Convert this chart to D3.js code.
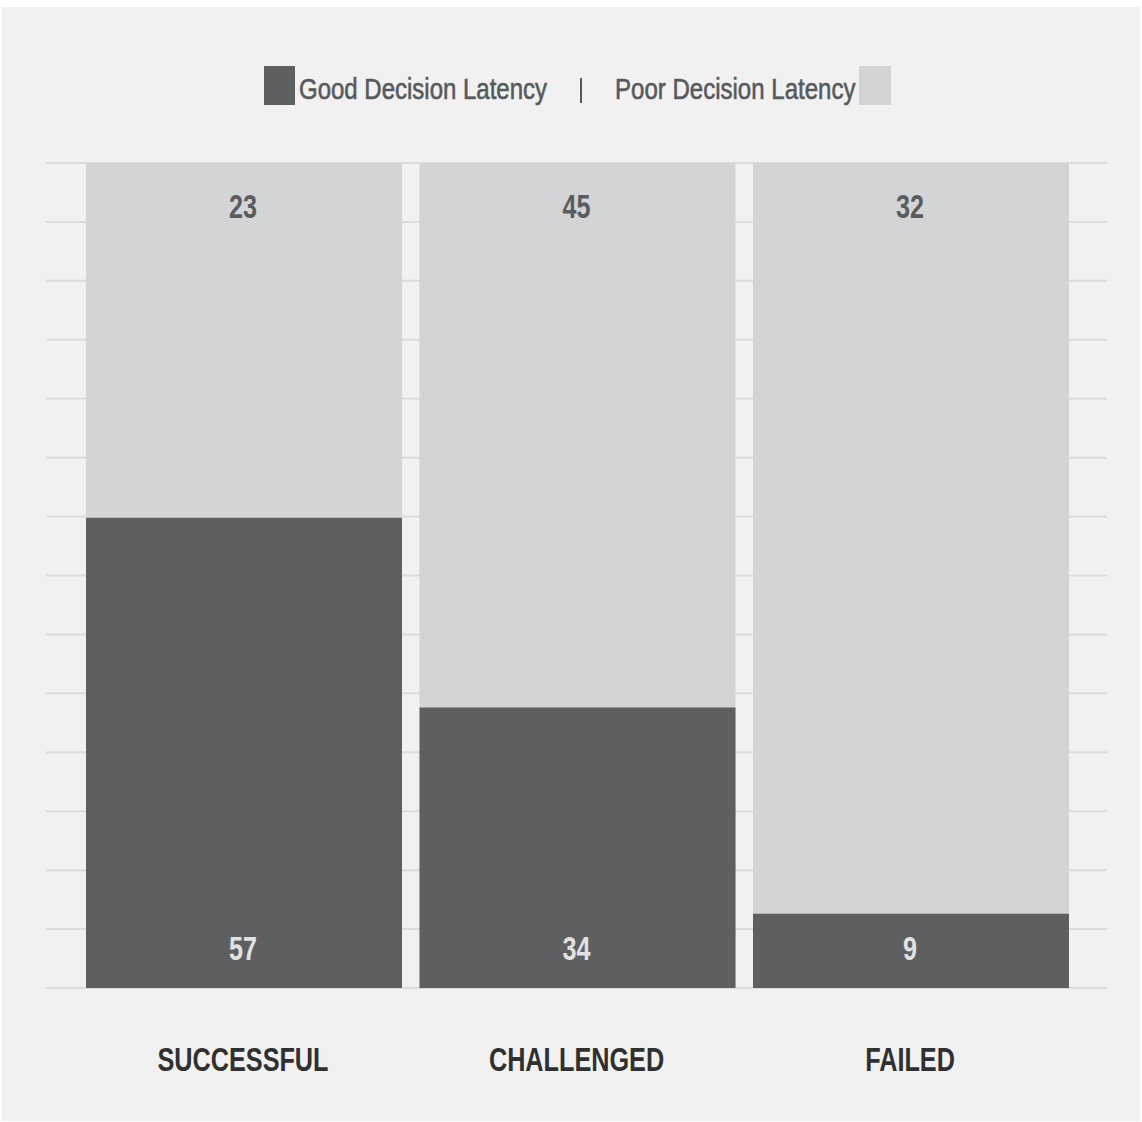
<!DOCTYPE html>
<html>
<head>
<meta charset="utf-8">
<script src="https://cdn.jsdelivr.net/npm/d3@7"></script>
<style>
  html, body { margin: 0; padding: 0; background: #ffffff; }
  svg { display: block; }
</style>
</head>
<body>
<svg id="chart" width="1142" height="1122"></svg>
<script>
// Project outcome categories and decision-latency shares (percent of projects)
const categories = ["SUCCESSFUL", "CHALLENGED", "FAILED"];
const goodLatency = [57, 34, 9];
const poorLatency = [23, 45, 32];
const seriesNames = ["Good Decision Latency", "Poor Decision Latency"];
const gridCount = 14; // horizontal guide lines divide the 0–100 scale evenly

const colors = { good: "#5e5f61", poor: "#d3d4d6", bg: "#f1f1f1", grid: "#dcdcdc", text: "#58595b" };
// condensed look: Liberation Sans squeezed horizontally
const font = "'Liberation Sans', Arial, sans-serif";

const svg = d3.select("#chart");

// panel background
svg.append("rect").attr("x", 2).attr("y", 7).attr("width", 1138).attr("height", 1114).attr("fill", colors.bg);

const plot = { left: 86, right: 1069, top: 163, bottom: 988, gridLeft: 46, gridRight: 1107 };

const x = d3.scaleBand().domain(categories).range([plot.left, plot.right]).paddingInner(0.0525).paddingOuter(0);
const y = d3.scaleLinear().domain([0, 100]).range([plot.bottom, plot.top]);

// gridlines
const gridTicks = d3.range(gridCount + 1).map(i => i * 100 / gridCount);
svg.append("g").selectAll("line").data(gridTicks).join("line")
  .attr("x1", plot.gridLeft).attr("x2", plot.gridRight)
  .attr("y1", d => y(d)).attr("y2", d => y(d))
  .attr("stroke", colors.grid).attr("stroke-width", 2);

const rows = categories.map((c, i) => ({ cat: c, good: goodLatency[i], poor: poorLatency[i] }));
const cx = d => x(d.cat) + x.bandwidth() / 2 - 1;

// full-height track behind each column (poor latency region)
svg.append("g").selectAll("rect").data(rows).join("rect")
  .attr("x", d => x(d.cat)).attr("width", x.bandwidth())
  .attr("y", y(100)).attr("height", y(0) - y(100))
  .attr("fill", colors.poor);

// good latency bars
svg.append("g").selectAll("rect").data(rows).join("rect")
  .attr("x", d => x(d.cat)).attr("width", x.bandwidth())
  .attr("y", d => y(d.good)).attr("height", d => y(0) - y(d.good))
  .attr("fill", colors.good);

// value labels
svg.append("g").selectAll("text").data(rows).join("text")
  .attr("transform", d => `translate(${cx(d)},218) scale(0.74,1)`)
  .attr("text-anchor", "middle").attr("font-family", font).attr("font-size", 34)
  .attr("font-weight", "bold").attr("fill", "#5a5b5d")
  .text(d => d.poor);

svg.append("g").selectAll("text").data(rows).join("text")
  .attr("transform", d => `translate(${cx(d)},960) scale(0.74,1)`)
  .attr("text-anchor", "middle").attr("font-family", font).attr("font-size", 34)
  .attr("font-weight", "bold").attr("fill", "#e2e2e2")
  .text(d => d.good);

// category labels
svg.append("g").selectAll("text").data(categories).join("text")
  .attr("transform", d => `translate(${x(d) + x.bandwidth() / 2 - 1},1071) scale(0.765,1)`)
  .attr("text-anchor", "middle").attr("font-family", font).attr("font-size", 33)
  .attr("font-weight", "bold").attr("fill", "#303030")
  .text(d => d);

// legend
const lg = svg.append("g");
lg.append("rect").attr("x", 264).attr("y", 66).attr("width", 31).attr("height", 39).attr("fill", colors.good);
lg.append("text").attr("transform", "translate(299,99) scale(0.827,1)")
  .attr("font-family", font).attr("font-size", 29)
  .attr("fill", colors.text).attr("stroke", colors.text).attr("stroke-width", 0.6)
  .text(seriesNames[0]);
lg.append("line").attr("x1", 581).attr("x2", 581).attr("y1", 78).attr("y2", 103)
  .attr("stroke", colors.text).attr("stroke-width", 2);
lg.append("text").attr("transform", "translate(615,99) scale(0.829,1)")
  .attr("font-family", font).attr("font-size", 29)
  .attr("fill", colors.text).attr("stroke", colors.text).attr("stroke-width", 0.6)
  .text(seriesNames[1]);
lg.append("rect").attr("x", 859).attr("y", 66).attr("width", 32).attr("height", 39).attr("fill", colors.poor);
</script>
</body>
</html>
